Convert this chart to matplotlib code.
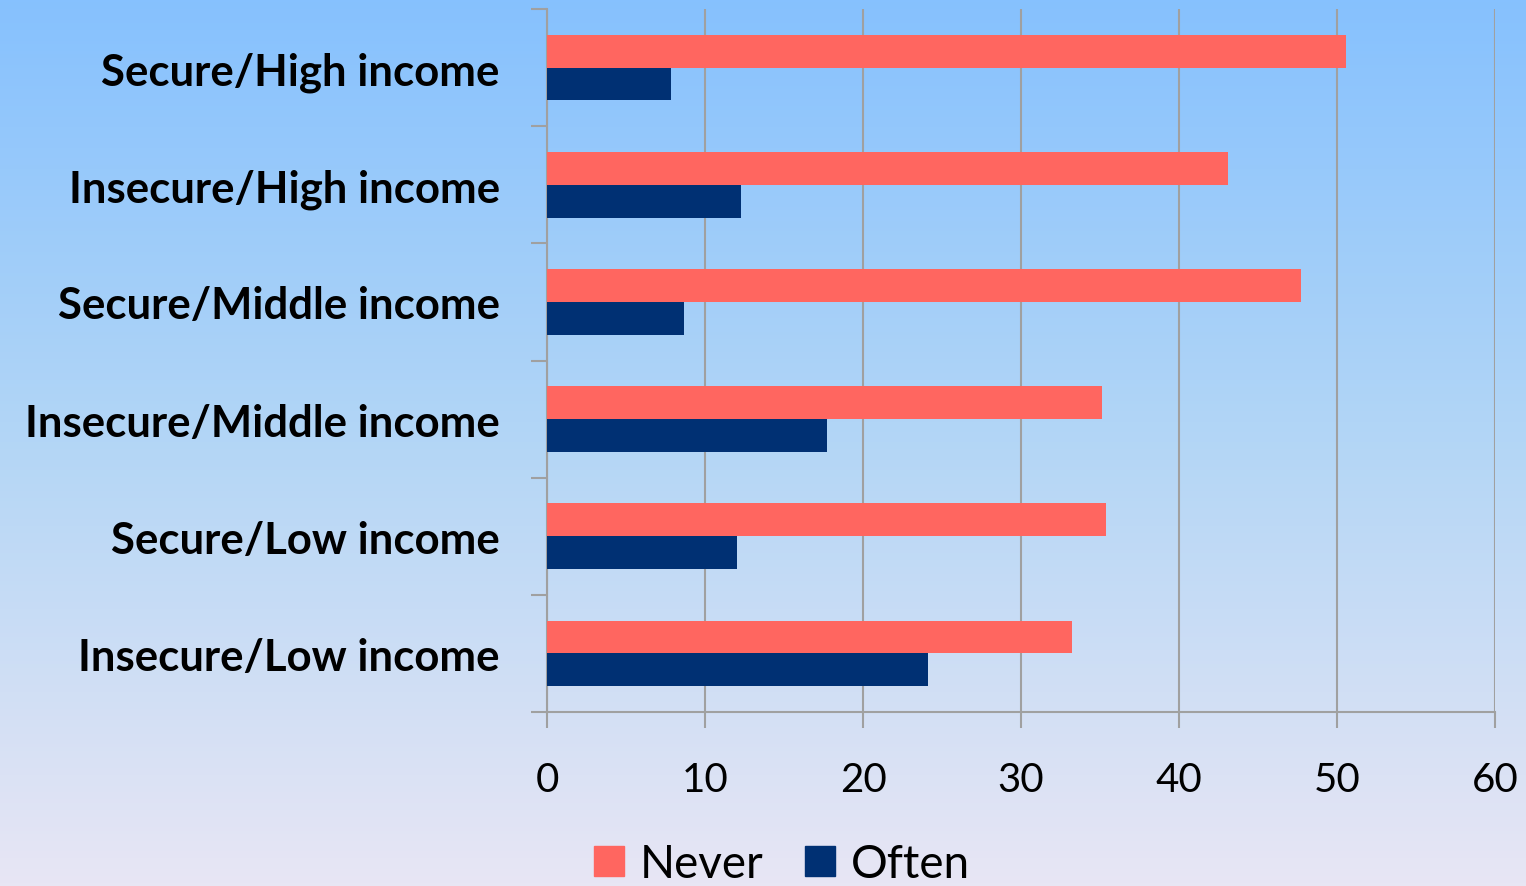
import numpy as np
import matplotlib.pyplot as plt
from matplotlib.colors import LinearSegmentedColormap
from matplotlib.patches import Patch

categories = ["Secure/High income", "Insecure/High income", "Secure/Middle income",
              "Insecure/Middle income", "Secure/Low income", "Insecure/Low income"]
never = [50.6, 43.1, 47.7, 35.1, 35.4, 33.2]
often = [7.85, 12.3, 8.7, 17.7, 12.0, 24.1]
x_ticks = [0, 10, 20, 30, 40, 50, 60]

NEVER_COLOR = "#FF6660"
OFTEN_COLOR = "#003073"
GRID_COLOR = "#A0A0A0"

W, H, DPI = 1526, 887, 100
fig = plt.figure(figsize=(W / DPI, H / DPI), dpi=DPI)

# vertical gradient background
bg = fig.add_axes([0, 0, 1, 1], zorder=-10)
cmap = LinearSegmentedColormap.from_list("bg", ["#86C1FE", "#B3D6F6", "#E8E6F4"])
grad = np.linspace(0, 1, 256).reshape(-1, 1)
bg.imshow(grad, aspect="auto", cmap=cmap, extent=[0, 1, 0, 1], origin="upper")
bg.set_axis_off()

left, right = 547 / W, 1495 / W
top, bottom = 1 - 10 / H, 1 - 713 / H
ax = fig.add_axes([left, bottom, right - left, top - bottom])
ax.set_facecolor("none")

y = np.arange(len(categories))
h = 0.28
ax.barh(y - h / 2, never, height=h, color=NEVER_COLOR, zorder=3)
ax.barh(y + h / 2, often, height=h, color=OFTEN_COLOR, zorder=3)

ax.set_ylim(len(categories) - 0.5, -0.5)
ax.set_xlim(0, 60)
ax.set_xticks(x_ticks)
ax.set_xticklabels([str(t) for t in x_ticks], fontsize=29, fontfamily="Lato")

# category boundaries as tick marks, labels at centres
ax.set_yticks(np.arange(-0.5, len(categories), 1.0))
ax.set_yticklabels([])
ax.set_yticks(y, minor=True)
ax.set_yticklabels(categories, minor=True, fontsize=31.5, fontweight="bold", fontfamily="Lato")
ax.tick_params(axis="y", which="minor", length=0, pad=34)
ax.tick_params(axis="y", which="major", length=11.5, width=1.5, color=GRID_COLOR, direction="out")
ax.tick_params(axis="x", length=11.5, width=1.5, color=GRID_COLOR, pad=24)

ax.grid(axis="x", color=GRID_COLOR, linewidth=1.5, zorder=0)
for s in ["top", "right"]:
    ax.spines[s].set_visible(False)
for s in ["left", "bottom"]:
    ax.spines[s].set_color(GRID_COLOR)
    ax.spines[s].set_linewidth(1.5)

handles = [Patch(color=NEVER_COLOR, label="Never"), Patch(color=OFTEN_COLOR, label="Often")]
fig.legend(handles=handles, loc="center", bbox_to_anchor=(782 / W, 1 - 865 / H), ncol=2,
           frameon=False, prop={"family": "Lato", "size": 33},
           handlelength=0.65, handleheight=0.65, handletextpad=0.35, columnspacing=0.9,
           borderpad=0.1)

fig.savefig("out.png", dpi=DPI)
